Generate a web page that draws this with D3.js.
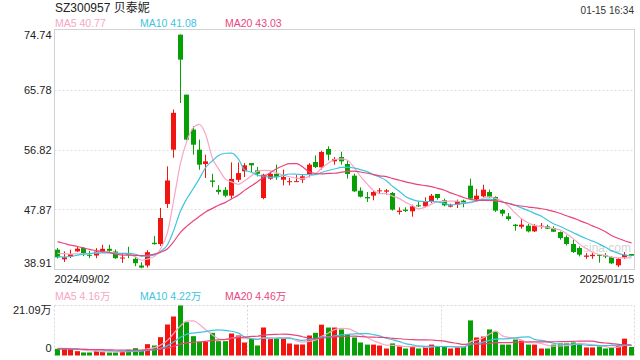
<!DOCTYPE html>
<html>
<head>
<meta charset="utf-8">
<script src="https://cdn.jsdelivr.net/npm/d3@7/dist/d3.min.js"></script>
<style>
    body { margin: 0; background: #fff; }
    svg { display: block; font-family: Arial, "Liberation Sans", "Noto Sans CJK SC", sans-serif; }
</style>
</head>
<body>
<script>
var title = "SZ300957 贝泰妮";
var stamp = "01-15 16:34";
var xLabels = ["2024/09/02", "2025/01/15"];
var priceTicks = [74.74, 65.78, 56.82, 47.87, 38.91];
var volTicks = [21.09, 0];
var maNames = ["MA5", "MA10", "MA20"];
var maDays = [5, 10, 20];
var maLast = ["40.77", "41.08", "43.03"];
var volMaLast = ["4.16万", "4.22万", "4.46万"];

// daily candles, 2024/09/02 .. 2025/01/15
var opens = [41.87, 40.43, 40.83, 41.62, 42.12, 41.10, 41.00, 41.60, 42.00, 41.60,
    40.60, 41.30, 40.50, 39.50, 39.50, 42.90, 42.70, 48.70, 56.80, 73.97,
    65.01, 59.80, 56.80, 54.66, 52.20, 50.80, 50.80, 49.93, 52.30, 53.57,
    54.80, 53.70, 49.58, 52.47, 53.20, 52.32, 52.00, 52.00, 52.32, 53.07,
    54.96, 54.16, 56.90, 55.06, 55.70, 54.66, 52.92, 50.68, 49.73, 49.93,
    50.58, 50.53, 50.33, 47.50, 47.84, 47.60, 48.49, 48.34, 49.09, 50.18,
    49.24, 48.29, 48.59, 49.19, 51.42, 49.34, 49.83, 50.48, 49.73, 47.80,
    46.85, 45.60, 45.30, 45.45, 44.60, 45.30, 45.35, 45.10, 44.50, 43.75,
    42.72, 42.12, 40.80, 40.90, 41.10, 41.05, 40.75, 39.53, 40.73, 41.22];
var closes = [40.73, 40.73, 41.22, 42.02, 41.37, 40.95, 41.60, 42.00, 41.70, 40.60,
    40.70, 41.10, 39.85, 39.20, 41.50, 42.70, 46.60, 52.20, 62.30, 70.24,
    58.30, 57.54, 54.56, 55.06, 52.00, 50.50, 49.93, 52.43, 53.30, 54.46,
    54.46, 53.20, 53.07, 53.20, 52.70, 52.72, 52.10, 52.10, 52.82, 54.56,
    54.21, 56.45, 56.05, 55.40, 55.06, 53.17, 50.58, 49.78, 49.53, 50.48,
    50.73, 50.73, 47.84, 47.70, 47.65, 48.34, 48.34, 49.09, 49.93, 49.58,
    48.49, 48.49, 49.09, 48.74, 49.49, 49.93, 50.83, 49.73, 47.70, 47.25,
    46.45, 45.40, 45.60, 44.60, 45.45, 45.45, 45.00, 44.55, 43.60, 42.72,
    41.52, 41.12, 41.00, 41.10, 40.98, 40.85, 39.83, 40.50, 41.12, 40.97];
var highs = [42.12, 41.62, 41.87, 42.27, 42.27, 41.70, 42.10, 42.60, 42.60, 41.90,
    41.40, 42.30, 40.80, 40.00, 41.80, 43.90, 48.10, 54.30, 62.80, 74.00,
    65.01, 60.30, 58.30, 56.05, 53.20, 51.50, 51.20, 54.90, 54.90, 54.80,
    54.80, 54.20, 53.20, 53.50, 54.55, 53.81, 52.57, 53.00, 53.07, 54.80,
    55.95, 56.65, 57.30, 55.70, 56.50, 55.16, 53.22, 51.17, 50.48, 50.68,
    51.07, 50.92, 50.48, 48.19, 48.19, 48.59, 49.09, 49.68, 50.18, 50.18,
    49.49, 48.74, 49.34, 49.34, 52.47, 50.92, 51.57, 50.83, 49.83, 47.94,
    47.35, 45.70, 46.50, 45.70, 45.70, 45.85, 45.60, 45.35, 44.60, 44.00,
    43.35, 42.37, 41.37, 41.37, 41.20, 41.37, 40.87, 40.63, 41.52, 41.22];
var lows = [40.55, 40.02, 40.63, 41.52, 40.90, 40.60, 40.60, 41.50, 41.50, 40.50,
    39.90, 40.60, 39.40, 39.10, 39.20, 42.60, 42.40, 48.10, 55.60, 63.76,
    58.20, 56.05, 53.80, 52.57, 51.20, 50.10, 49.70, 49.50, 51.97, 52.72,
    53.46, 52.80, 49.40, 52.30, 52.30, 51.47, 51.47, 51.97, 51.82, 52.67,
    54.06, 53.81, 55.20, 54.56, 54.56, 52.47, 50.48, 49.68, 48.99, 49.24,
    50.23, 50.08, 47.70, 47.10, 47.50, 46.80, 48.24, 48.24, 48.84, 49.34,
    48.34, 48.19, 48.09, 48.19, 49.34, 49.09, 49.68, 49.58, 47.50, 46.85,
    46.20, 44.70, 45.00, 44.45, 44.50, 45.00, 44.95, 44.50, 43.35, 42.50,
    41.37, 40.87, 40.50, 40.50, 39.93, 40.60, 39.70, 39.28, 40.48, 40.97];
// volume, in 万
var volumes = [2.81, 2.81, 2.81, 1.83, 1.27, 1.27, 1.97, 1.69, 1.27, 1.27,
    1.69, 2.39, 3.09, 2.11, 4.78, 4.22, 7.73, 13.08, 16.45, 21.09,
    14.06, 8.15, 5.76, 5.76, 9.56, 6.05, 6.05, 9.28, 8.44, 5.48,
    7.03, 4.22, 11.81, 7.03, 7.03, 7.03, 5.06, 4.64, 4.64, 8.44,
    9.56, 13.0, 11.8, 11.8, 11.0, 8.9, 7.6, 5.5, 4.6, 4.6,
    4.2, 2.95, 5.1, 3.8, 2.95, 3.8, 2.95, 3.8, 4.6, 3.8,
    3.8, 2.95, 3.4, 3.8, 14.8, 7.6, 8.0, 11.0, 10.1, 4.6,
    4.6, 6.75, 6.3, 4.6, 4.6, 2.95, 2.95, 4.6, 5.1, 5.1,
    5.5, 5.1, 3.4, 3.4, 3.8, 2.95, 3.4, 4.0, 7.1, 3.6];
// sessions before the window, only used to start the averages
var prevCloses = [46.5, 46.2, 45.9, 45.6, 45.4, 45.2, 45.0, 44.8, 44.6, 44.1,
    41.2, 40.5, 40.0, 39.9, 40.0, 41.0, 41.6, 41.7, 41.62];
var prevVolumes = [3.6, 3.2, 2.9, 3.1, 2.7, 2.5, 2.8, 2.4, 2.6, 2.9,
    2.2, 2.5, 2.7, 2.3, 2.6, 3.0, 3.3, 2.9, 3.1];

const UP = "#f2150f";
const DOWN = "#06a006";
const MA_COLORS = ["#f8a5c6", "#40c4e0", "#e9457c"];

var W = 640, H = 360;
var plotLeft = 54.5, plotRight = 634.5;
var plotTop = 29.5, plotBottom = 269.5;
var volTop = 305.5, volBottom = 355.5;
var n = closes.length;

function movingAvg(prev, vals, days){
    var all = prev.concat(vals);
    var off = prev.length;
    return vals.map(function(v, i){
        var s = Math.max(0, off + i - days + 1);
        return d3.mean(all.slice(s, off + i + 1));
    });
}

var svg = d3.select("body").append("svg")
    .attr("width", W)
    .attr("height", H);

var x = d3.scaleBand()
    .domain(d3.range(n))
    .range([plotLeft, plotRight]);
var y = d3.scaleLinear()
    .domain([priceTicks[priceTicks.length - 1], priceTicks[0]])
    .range([plotBottom, plotTop]);
var yv = d3.scaleLinear()
    .domain([0, volTicks[0]])
    .range([volBottom, volTop]);

function cx(i){ return Math.round(x(i) + x.bandwidth() / 2 - 2.5) + 2.5; }

// header
svg.append("text")
    .attr("x", 55).attr("y", 12)
    .attr("font-size", 12).attr("fill", "#222")
    .text(title);
svg.append("text")
    .attr("x", 634).attr("y", 14)
    .attr("text-anchor", "end")
    .attr("font-size", 10).attr("fill", "#333")
    .text(stamp);

function legend(yPos, vals){
    maNames.forEach(function(name, k){
        svg.append("text")
            .attr("x", 55 + k * 85).attr("y", yPos)
            .attr("font-size", 10.5)
            .attr("fill", MA_COLORS[k])
            .text(name + " " + vals[k]);
    });
}
legend(27, maLast);
legend(300, volMaLast);

// price panel frame + grid
svg.append("g")
    .selectAll("line")
    .data(priceTicks.slice(1, -1))
    .enter().append("line")
        .attr("x1", plotLeft).attr("x2", plotRight)
        .attr("y1", function(d){ return Math.round(y(d)) + 0.5; })
        .attr("y2", function(d){ return Math.round(y(d)) + 0.5; })
        .attr("stroke", "#dedede")
        .attr("stroke-dasharray", "2,2");
svg.append("rect")
    .attr("x", plotLeft).attr("y", plotTop)
    .attr("width", plotRight - plotLeft).attr("height", plotBottom - plotTop)
    .attr("fill", "none")
    .attr("stroke", "#d2d2d2");

svg.append("text")
    .attr("x", 583).attr("y", 252)
    .attr("font-size", 12)
    .attr("fill", "#d4d4d4")
    .text("sina.com");

var yAxis = svg.append("g")
    .attr("transform", "translate(" + plotLeft + ",0)")
    .call(d3.axisLeft(y).tickValues(priceTicks).tickSize(0).tickPadding(3).tickFormat(d3.format(".2f")));
yAxis.select(".domain").remove();
yAxis.selectAll("text")
    .attr("font-size", 11)
    .attr("font-family", "Arial, 'Liberation Sans', sans-serif")
    .attr("fill", "#222")
    .attr("dy", function(d, i){
        if(i == 0) return "0.8em";
        if(i == priceTicks.length - 1) return "-0.25em";
        return "0.32em";
    });

svg.append("text")
    .attr("x", plotLeft).attr("y", 283)
    .attr("font-size", 11).attr("fill", "#222")
    .text(xLabels[0]);
svg.append("text")
    .attr("x", plotRight).attr("y", 283)
    .attr("text-anchor", "end")
    .attr("font-size", 11).attr("fill", "#222")
    .text(xLabels[1]);

// candles
var candle = svg.append("g")
    .selectAll("g")
    .data(d3.range(n))
    .enter().append("g")
        .attr("fill", function(i){ return closes[i] >= opens[i] ? UP : DOWN; })
        .attr("stroke", function(i){ return closes[i] >= opens[i] ? UP : DOWN; });
candle.append("line")
    .attr("x1", cx).attr("x2", cx)
    .attr("y1", function(i){ return y(highs[i]); })
    .attr("y2", function(i){ return y(lows[i]); })
    .attr("stroke-width", 1);
candle.append("rect")
    .attr("x", function(i){ return cx(i) - 2.5; })
    .attr("width", 5)
    .attr("y", function(i){ return y(Math.max(opens[i], closes[i])); })
    .attr("height", function(i){ return Math.max(1, Math.abs(y(opens[i]) - y(closes[i]))); })
    .attr("stroke", "none");

var priceLine = d3.line()
    .x(function(d, i){ return cx(i); })
    .y(function(d){ return y(d); })
    .curve(d3.curveMonotoneX);
maDays.forEach(function(days, k){
    svg.append("path")
        .datum(movingAvg(prevCloses, closes, days))
        .attr("d", priceLine)
        .attr("fill", "none")
        .attr("stroke", MA_COLORS[k])
        .attr("stroke-width", 1.2);
});

// volume panel
var vGrid = svg.append("g")
    .attr("stroke", "#d6d6d6")
    .attr("stroke-dasharray", "2,2");
vGrid.append("line")
    .attr("x1", plotLeft).attr("x2", plotRight)
    .attr("y1", volTop).attr("y2", volTop);
vGrid.selectAll(".vline")
    .data([0, 1 / 3, 2 / 3, 1])
    .enter().append("line")
        .attr("class", "vline")
        .attr("x1", function(d){ return Math.round(plotLeft + d * (plotRight - plotLeft) - 0.5) + 0.5; })
        .attr("x2", function(d){ return Math.round(plotLeft + d * (plotRight - plotLeft) - 0.5) + 0.5; })
        .attr("y1", volTop).attr("y2", volBottom);

svg.append("g")
    .selectAll("rect")
    .data(d3.range(n))
    .enter().append("rect")
        .attr("x", function(i){ return cx(i) - 2.5; })
        .attr("width", 5)
        .attr("y", function(i){ return yv(volumes[i]); })
        .attr("height", function(i){ return volBottom - yv(volumes[i]); })
        .attr("fill", function(i){ return closes[i] >= opens[i] ? UP : DOWN; });

var volLine = d3.line()
    .x(function(d, i){ return cx(i); })
    .y(function(d){ return yv(d); })
    .curve(d3.curveMonotoneX);
maDays.forEach(function(days, k){
    svg.append("path")
        .datum(movingAvg(prevVolumes, volumes, days))
        .attr("d", volLine)
        .attr("fill", "none")
        .attr("stroke", MA_COLORS[k])
        .attr("stroke-width", 1.2);
});

svg.append("text")
    .attr("x", 51.5).attr("y", volTop)
    .attr("dy", "0.8em")
    .attr("text-anchor", "end")
    .attr("font-size", 11).attr("fill", "#222")
    .text(volTicks[0] + "万");
svg.append("text")
    .attr("x", 51.5).attr("y", volBottom)
    .attr("dy", "-0.3em")
    .attr("text-anchor", "end")
    .attr("font-size", 11).attr("fill", "#222")
    .text(volTicks[1]);
</script>
</body>
</html>
